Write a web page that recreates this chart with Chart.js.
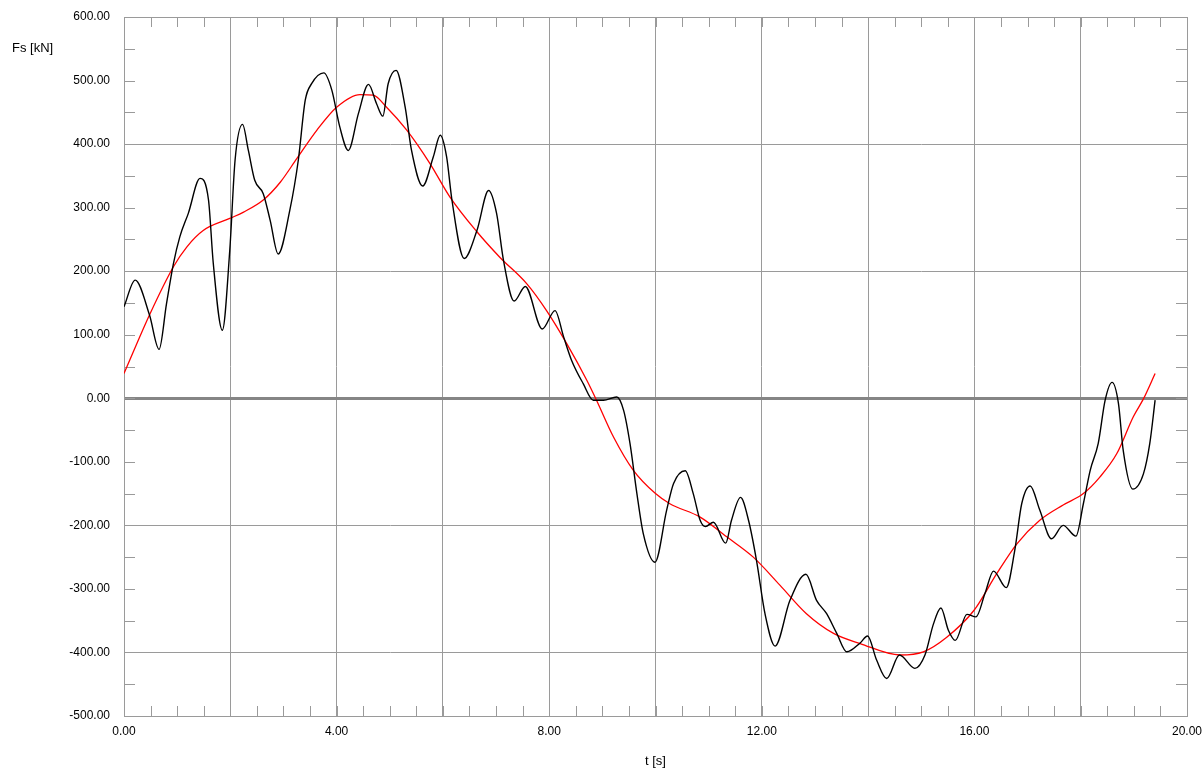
<!DOCTYPE html>
<html>
<head>
<meta charset="utf-8">
<script src="https://cdn.jsdelivr.net/npm/chart.js@4"></script>
<style>
  html, body { margin: 0; padding: 0; background: #fff; }
  canvas { display: block; }
</style>
</head>
<body>
<canvas id="chart" width="1203" height="769"></canvas>
<script>
// measured force signal (black)
const tMeasured = [0.00, 0.21, 0.48, 0.66, 0.80, 0.93, 1.05, 1.21, 1.43, 1.59, 1.68, 1.85, 1.99, 2.09, 2.23, 2.34, 2.46, 2.62, 2.75, 2.90,
  3.12, 3.28, 3.41, 3.53, 3.76, 3.91, 4.06, 4.22, 4.41, 4.60, 4.75, 4.87, 4.97, 5.12, 5.29, 5.41, 5.62, 5.82, 5.95, 6.07,
  6.17, 6.40, 6.64, 6.86, 7.01, 7.14, 7.34, 7.55, 7.87, 8.11, 8.27, 8.42, 8.64, 8.83, 9.02, 9.27, 9.40, 9.52, 9.65, 9.77,
  9.99, 10.21, 10.34, 10.56, 10.71, 10.84, 10.94, 11.09, 11.32, 11.43, 11.60, 11.75, 11.90, 12.06, 12.25, 12.53, 12.83, 13.03, 13.22, 13.41,
  13.60, 13.85, 13.99, 14.16, 14.35, 14.59, 14.88, 15.07, 15.23, 15.37, 15.51, 15.64, 15.86, 16.03, 16.20, 16.36, 16.60, 16.76, 16.89, 17.05,
  17.23, 17.45, 17.67, 17.91, 18.05, 18.18, 18.33, 18.46, 18.59, 18.71, 18.80, 18.98, 19.18, 19.30, 19.40];
const fsMeasured = [144, 186, 131, 77, 149, 212, 254, 291, 346, 312, 212, 107, 233, 375, 431, 390, 343, 322, 280, 227,
  296, 375, 469, 495, 512, 485, 427, 390, 448, 494, 464, 444, 495, 516, 458, 390, 334, 380, 414, 380,
  312, 220, 264, 327, 291, 217, 153, 176, 109, 138, 97, 60, 23, -3, -3, 2, -19, -71, -150, -213,
  -258, -176, -134, -114, -150, -192, -202, -195, -228, -192, -156, -192, -255, -339, -390, -318, -277, -318, -339, -370,
  -399, -385, -374, -412, -441, -404, -425, -404, -355, -330, -365, -381, -340, -344, -307, -272, -298, -239, -166, -138,
  -176, -221, -200, -217, -166, -113, -71, -3, 25, -8, -82, -143, -119, -71, -3];

// smoothed trend (red)
const tFit = [0.00, 0.49, 0.93, 1.18, 1.49, 1.99, 2.25, 2.62, 2.94, 3.25, 3.63, 4.00, 4.44, 4.69, 4.94, 5.32, 5.76, 6.13, 6.64, 7.07,
  7.58, 7.95, 8.33, 8.71, 8.89, 9.21, 9.58, 10.00, 10.27, 10.84, 11.34, 11.84, 12.34, 12.84, 13.35, 13.85, 14.60, 15.04, 15.48, 15.99,
  16.42, 16.80, 17.23, 17.67, 18.05, 18.36, 18.68, 18.99, 19.18, 19.40];
const fsFit = [39, 133, 207, 238, 264, 283, 293, 312, 340, 377, 422, 458, 478, 477, 458, 422, 369, 317, 262, 222,
  180, 138, 86, 28, -3, -61, -113, -150, -166, -187, -218, -250, -294, -339, -370, -386, -404, -399, -376, -334,
  -276, -229, -192, -168, -150, -124, -87, -29, -1, 39];

const xLabelValues = [0, 4, 8, 12, 16, 20];
const yLabelValues = [-500, -400, -300, -200, -100, 0, 100, 200, 300, 400, 500, 600];

const FONT = '"Liberation Sans", Arial, sans-serif';
const GRID = '#9a9a9a';
const NONE = 'rgba(0,0,0,0)';

function points(xs, ys) {
  return xs.map((x, i) => ({ x: x, y: ys[i] }));
}
function isMultiple(v, m) {
  return Math.abs(v / m - Math.round(v / m)) < 1e-6;
}
function hasLabel(list, v) {
  return list.some(l => Math.abs(v - l) < 1e-6);
}

// short tick marks pointing into the plot on all four sides, plus the y title
const innerTicks = {
  id: 'innerTicks',
  beforeDatasetsDraw(chart) {
    const { ctx, chartArea: a, scales: { x, y } } = chart;
    ctx.save();
    ctx.strokeStyle = GRID;
    ctx.lineWidth = 1;
    ctx.beginPath();
    x.ticks.forEach(t => {
      const px = Math.round(x.getPixelForValue(t.value)) + 0.5;
      ctx.moveTo(px, a.bottom); ctx.lineTo(px, a.bottom - 10);
      ctx.moveTo(px, a.top); ctx.lineTo(px, a.top + 10);
    });
    y.ticks.forEach(t => {
      const py = Math.round(y.getPixelForValue(t.value)) + 0.5;
      ctx.moveTo(a.left, py); ctx.lineTo(a.left + 11, py);
      ctx.moveTo(a.right, py); ctx.lineTo(a.right - 11, py);
    });
    ctx.stroke();
    ctx.fillStyle = '#000';
    ctx.font = '13px ' + FONT;
    ctx.textBaseline = 'middle';
    ctx.fillText('Fs [kN]', 12, 48);
    ctx.restore();
  }
};

new Chart(document.getElementById('chart'), {
  type: 'scatter',
  data: {
    datasets: [
      {
        label: 'Fs',
        data: points(tMeasured, fsMeasured),
        showLine: true,
        borderColor: '#000000',
        borderWidth: 1.4,
        pointRadius: 0,
        cubicInterpolationMode: 'monotone'
      },
      {
        label: 'Fs trend',
        data: points(tFit, fsFit),
        showLine: true,
        borderColor: '#ff0000',
        borderWidth: 1.3,
        pointRadius: 0,
        cubicInterpolationMode: 'monotone'
      }
    ]
  },
  options: {
    responsive: false,
    animation: false,
    layout: { padding: { top: 17, right: 16, left: 0, bottom: 0 } },
    plugins: {
      legend: { display: false },
      tooltip: { enabled: false }
    },
    scales: {
      x: {
        type: 'linear',
        min: 0,
        max: 20,
        afterFit(scale) { scale.height = 53; },
        border: { color: GRID, width: 1 },
        grid: {
          drawTicks: true,
          tickLength: 8,
          tickColor: NONE,
          color: c => isMultiple(c.tick.value, 2) ? GRID : NONE,
          lineWidth: 1
        },
        ticks: {
          stepSize: 0.5,
          autoSkip: false,
          maxRotation: 0,
          padding: 0,
          color: '#000',
          font: { family: FONT, size: 12 },
          callback: v => hasLabel(xLabelValues, v) ? v.toFixed(2) : ''
        },
        title: {
          display: true,
          text: 't [s]',
          color: '#000',
          font: { family: FONT, size: 13 },
          padding: 0
        }
      },
      y: {
        type: 'linear',
        min: -500,
        max: 600,
        afterFit(scale) { scale.width = 124; },
        border: { color: GRID, width: 1 },
        grid: {
          drawTicks: true,
          tickLength: 14,
          tickColor: NONE,
          color: c => c.tick.value === 0 ? '#858585' : (isMultiple(c.tick.value, 200) ? GRID : NONE),
          lineWidth: c => c.tick.value === 0 ? 3 : 1
        },
        ticks: {
          stepSize: 50,
          autoSkip: false,
          padding: 0,
          color: '#000',
          font: { family: FONT, size: 12 },
          callback: v => hasLabel(yLabelValues, v) ? v.toFixed(2) : ''
        }
      }
    }
  },
  plugins: [innerTicks]
});
</script>
</body>
</html>
